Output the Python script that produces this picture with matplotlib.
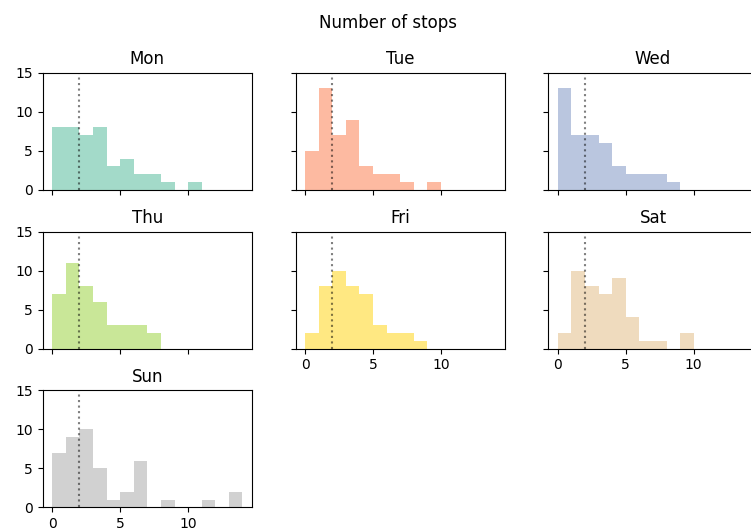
import numpy as np
import matplotlib
matplotlib.use("Agg")
from matplotlib import pyplot as plt

days = ['Mon', 'Tue', 'Wed', 'Thu', 'Fri', 'Sat', 'Sun']
colors = ['#66c2a5', '#fc8d62', '#8da0cb', '#a6d854', '#ffd92f', '#e5c494', '#b3b3b3']

# counts per unit-width bin, bins start at 0
bin_edges = np.arange(0, 15)
counts = {
    'Mon': [8, 8, 7, 8, 3, 4, 2, 2, 1, 0, 1, 0, 0, 0],
    'Tue': [5, 13, 7, 9, 3, 2, 2, 1, 0, 1, 0, 0, 0, 0],
    'Wed': [13, 7, 7, 6, 3, 2, 2, 2, 1, 0, 0, 0, 0, 0],
    'Thu': [7, 11, 8, 6, 3, 3, 3, 2, 0, 0, 0, 0, 0, 0],
    'Fri': [2, 8, 10, 8, 7, 3, 2, 2, 1, 0, 0, 0, 0, 0],
    'Sat': [2, 10, 8, 7, 9, 4, 1, 1, 0, 2, 0, 0, 0, 0],
    'Sun': [7, 9, 10, 5, 1, 2, 6, 0, 1, 0, 0, 1, 0, 2],
}
median_stops = 2

fig, axes = plt.subplots(3, 3, sharex=True, sharey=True, figsize=(7.51, 5.32), dpi=100)
fig.subplots_adjust(left=0.0569, right=1.0088, bottom=0.0464, top=0.8633,
                    wspace=0.208, hspace=0.357)

axs = axes.flatten()
for i, day in enumerate(days):
    ax = axs[i]
    ax.hist(bin_edges[:-1], bins=bin_edges, weights=counts[day],
            color=colors[i], alpha=0.6)
    ax.axvline(median_stops, color='k', linestyle=':', alpha=0.5)
    ax.set_title(day)

for ax in axs[7:]:
    fig.delaxes(ax)

axs[4].xaxis.set_tick_params(labelbottom=True)
axs[5].xaxis.set_tick_params(labelbottom=True)

axs[0].set_yticks([0, 5, 10, 15])
axs[0].set_ylim(0, 15)
axs[0].set_xticks([0, 5, 10])

fig.suptitle('Number of stops', x=0.517, y=0.974, fontsize=12)

plt.savefig('out.png', dpi=100)
